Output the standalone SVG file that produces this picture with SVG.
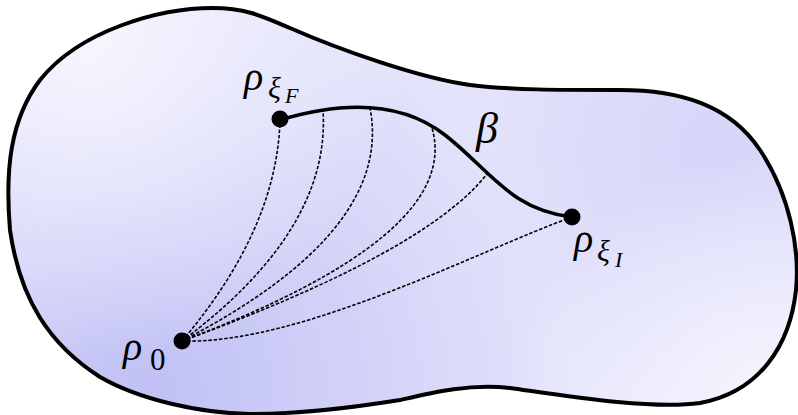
<svg xmlns="http://www.w3.org/2000/svg" width="798" height="415" viewBox="0 0 798 415">
<defs>
<radialGradient id="g1" gradientUnits="userSpaceOnUse" cx="150" cy="390" r="420">
<stop offset="0" stop-color="#c0c0f5" stop-opacity="1"/>
<stop offset="1" stop-color="#c0c0f5" stop-opacity="0"/>
</radialGradient>
<radialGradient id="g2" gradientUnits="userSpaceOnUse" cx="720" cy="150" r="260">
<stop offset="0" stop-color="#d2d2f8" stop-opacity="0.85"/>
<stop offset="1" stop-color="#d2d2f8" stop-opacity="0"/>
</radialGradient>
<radialGradient id="g3" gradientUnits="userSpaceOnUse" cx="90" cy="40" r="320">
<stop offset="0" stop-color="#f6f6ff" stop-opacity="1"/>
<stop offset="1" stop-color="#f6f6ff" stop-opacity="0"/>
</radialGradient>
<radialGradient id="g4" gradientUnits="userSpaceOnUse" cx="770" cy="410" r="260">
<stop offset="0" stop-color="#f6f6ff" stop-opacity="1"/>
<stop offset="1" stop-color="#f6f6ff" stop-opacity="0"/>
</radialGradient>
<path id="blob" d="M 213,8 C 245,8 262,16 290,28 C 340,50 420,78 470,85 C 510,90 560,90 620,90 C 680,90 730,105 760,150 C 790,195 800,250 796,290 C 790,345 760,392 700,403 C 650,410 560,395 510,388 C 470,383 430,393 400,400 C 350,408 300,414 250,414 C 200,413 140,400 100,377 C 50,345 20,300 10,230 C 5,170 10,120 40,80 C 80,30 160,8 213,8 Z"/>
</defs>
<style>
.dash{fill:none;stroke:#000;stroke-width:1.6;stroke-dasharray:3.5 1.8}
.lbl{font-family:"Liberation Serif","DejaVu Serif",serif;font-style:italic;fill:#000}
.num{font-family:"Liberation Serif","DejaVu Serif",serif;fill:#000}
</style>
<g id="region">
<use href="#blob" fill="#e4e4fb"/>
<use href="#blob" fill="url(#g1)"/>
<use href="#blob" fill="url(#g2)"/>
<use href="#blob" fill="url(#g3)"/>
<use href="#blob" fill="url(#g4)"/>
<use href="#blob" fill="none" stroke="#000" stroke-width="4"/>
</g>
<g id="connectors">
<path class="dash" d="M 182,341 Q 277,229 280,120"/>
<path class="dash" d="M 182,341 Q 331,230 323,110"/>
<path class="dash" d="M 182,341 Q 394,231 370,108"/>
<path class="dash" d="M 182,341 Q 463,235 432,128"/>
<path class="dash" d="M 182,341 Q 426,252 487,174"/>
<path class="dash" d="M 182,341 C 300,345 480,250 572,217"/>
</g>
<g id="beta">
<path d="M 280,120 C 340,102 400,100 445,135 C 490,170 510,210 572,217" fill="none" stroke="#000" stroke-width="3.5"/>
<text class="lbl" x="476" y="143" font-size="44">β</text>
</g>
<g id="rho-xiF">
<circle cx="280" cy="119" r="8.5"/>
<text class="lbl" x="244" y="90" font-size="40">ρ</text>
<text class="lbl" x="268" y="98" font-size="30">ξ</text>
<text class="lbl" x="285" y="103" font-size="22">F</text>
</g>
<g id="rho-xiI">
<circle cx="572" cy="217" r="8.5"/>
<text class="lbl" x="574" y="252" font-size="40">ρ</text>
<text class="lbl" x="597" y="261" font-size="30">ξ</text>
<text class="lbl" x="615" y="267" font-size="22">I</text>
</g>
<g id="rho-0">
<circle cx="182" cy="341" r="8.5"/>
<text class="lbl" x="123" y="360" font-size="40">ρ</text>
<text class="num" x="150" y="370" font-size="31">0</text>
</g>
</svg>
